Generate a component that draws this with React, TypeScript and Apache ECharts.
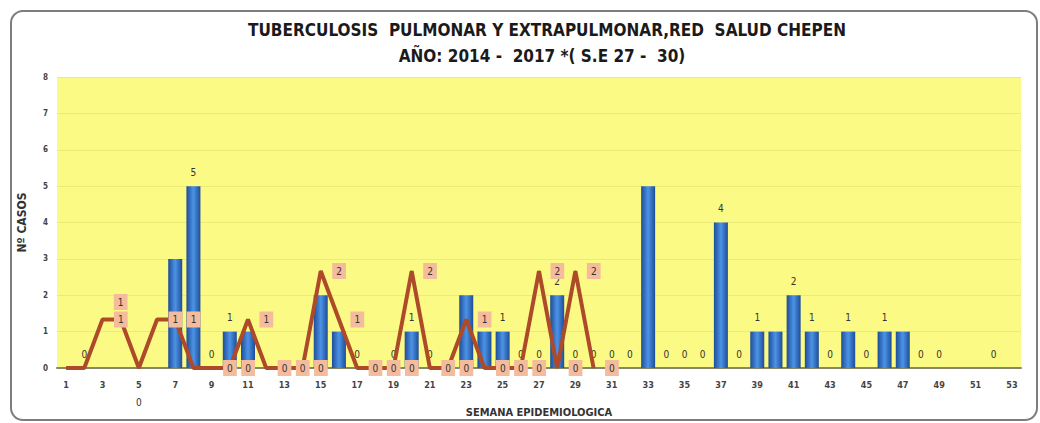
import React, { useEffect, useRef } from "react";
import * as echarts from "echarts";

const weeks = [
  "1","2","3","4","5","6","7","8","9","10","11","12","13","14","15","16","17","18","19","20",
  "21","22","23","24","25","26","27","28","29","30","31","32","33","34","35","36","37","38","39","40",
  "41","42","43","44","45","46","47","48","49","50","51","52","53",
];

// Bars (blue)
const barCases: (number | null)[] = [
  null, 0, null, null, null, null, 3, 5, 0, 1,
  1, null, null, null, 2, 1, 0, null, 0, 1,
  0, null, 2, 1, 1, 0, 0, 2, 0, 0,
  0, 0, 5, 0, 0, 0, 4, 0, 1, 1,
  2, 1, 0, 1, 0, 1, 1, 0, 0, null,
  null, 0, null,
];

// Line (2017, up to week 30)
const lineCases: (number | null)[] = [
  0, 0, 1, 1, 0, 1, 1, 0, 0, 0,
  1, 0, 0, 0, 2, 1, 0, 0, 0, 2,
  0, 0, 1, 0, 0, 0, 2, 0, 2, 0,
];

const yTicks = [0, 1, 2, 3, 4, 5, 6, 7, 8];
const hiddenBarLabelWeeks = [7, 11, 15, 16, 23, 24, 33, 40, 47];
const hiddenLineLabelWeeks = [1, 2, 8];

const titleLines = [
  "TUBERCULOSIS  PULMONAR Y EXTRAPULMONAR,RED  SALUD CHEPEN",
  "AÑO: 2014 -  2017 *( S.E 27 -  30)",
];

export default function App() {
  const ref = useRef<HTMLDivElement>(null);
  useEffect(() => {
    document.body.style.margin = "0";
    const chart = echarts.init(ref.current!, null, { renderer: "svg" });
    const font = "'Liberation Sans Narrow', 'DejaVu Sans Condensed', Arial, sans-serif";

    const barData = barCases.map((v, i) => {
      if (v === null) return null;
      if (hiddenBarLabelWeeks.includes(i + 1)) return { value: v, label: { show: false } };
      return v;
    });
    const lineData = lineCases.map((v, i) => {
      const w = i + 1;
      if (hiddenLineLabelWeeks.includes(w)) return { value: v, label: { show: false } };
      if (w === 4) return { value: v, label: { position: "top", distance: 9 } };
      if (w === 5)
        return {
          value: v,
          label: { position: "bottom", distance: 26, offset: [-7, 0], backgroundColor: "transparent" },
        };
      return v;
    });

    chart.setOption({
      animation: false,
      backgroundColor: "#ffffff",
      graphic: [
        {
          type: "rect",
          shape: { x: 11, y: 11, width: 1026, height: 409, r: 12 },
          style: { fill: "none", stroke: "#7d7d7d", lineWidth: 2 },
          silent: true,
          z: -1,
        },
        {
          type: "text",
          x: 547,
          y: 30,
          style: {
            text: titleLines[0],
            fontFamily: font,
            fontSize: 17,
            fontWeight: "bold",
            fill: "#1a1a1a",
            textAlign: "center",
            textVerticalAlign: "middle",
          },
        },
        {
          type: "text",
          x: 542,
          y: 56,
          style: {
            text: titleLines[1],
            fontFamily: font,
            fontSize: 17,
            fontWeight: "bold",
            fill: "#1a1a1a",
            textAlign: "center",
            textVerticalAlign: "middle",
          },
        },
      ],
      grid: {
        left: 57,
        right: 19,
        top: 77,
        bottom: 53,
        show: true,
        backgroundColor: "#fbfa84",
        borderWidth: 0,
      },
      xAxis: {
        type: "category",
        data: weeks,
        name: "SEMANA EPIDEMIOLOGICA",
        nameLocation: "middle",
        nameGap: 39,
        nameTextStyle: { fontFamily: font, fontSize: 11, fontWeight: "bold", color: "#333" },
        axisLine: { lineStyle: { color: "#868668", width: 2 } },
        axisTick: { show: false },
        axisLabel: {
          interval: 1,
          margin: 12,
          fontFamily: font,
          fontSize: 9,
          fontWeight: "bold",
          color: "#444",
        },
      },
      yAxis: [
        {
          type: "value",
          min: yTicks[0],
          max: yTicks[yTicks.length - 1],
          interval: 1,
          name: "Nº CASOS",
          nameLocation: "middle",
          nameGap: 29,
          nameTextStyle: { fontFamily: font, fontSize: 12, fontWeight: "bold", color: "#333" },
          axisLine: { show: false },
          axisTick: { show: false },
          axisLabel: { margin: 9, fontFamily: font, fontSize: 8, fontWeight: "bold", color: "#444" },
          splitLine: { lineStyle: { color: "#ecea78", width: 1 } },
        },
        { type: "value", min: 0, max: 6, show: false },
      ],
      series: [
        {
          type: "bar",
          data: barData,
          barWidth: 14,
          barGap: "0%",
          itemStyle: {
            color: new echarts.graphic.LinearGradient(0, 0, 1, 0, [
              { offset: 0, color: "#1e4d98" },
              { offset: 0.5, color: "#4c93e6" },
              { offset: 1, color: "#1e4d98" },
            ]),
          },
          label: {
            show: true,
            position: "top",
            distance: 9,
            fontFamily: font,
            fontSize: 10,
            color: "#333",
          },
          z: 2,
        },
        {
          type: "line",
          yAxisIndex: 1,
          data: lineData,
          symbol: "circle",
          symbolSize: 1,
          showSymbol: true,
          itemStyle: { color: "#ad4a2a" },
          connectNulls: false,
          lineStyle: { color: "#ad4a2a", width: 4 },
          label: {
            show: true,
            position: "right",
            distance: 11,
            fontFamily: font,
            fontSize: 10,
            color: "#333",
            backgroundColor: "#f4bc9c",
            padding: [3, 4],
          },
          labelLayout: { hideOverlap: false },
          z: 3,
        },
      ],
    });
    return () => chart.dispose();
  }, []);
  return <div ref={ref} style={{ width: 1040, height: 423 }} />;
}
